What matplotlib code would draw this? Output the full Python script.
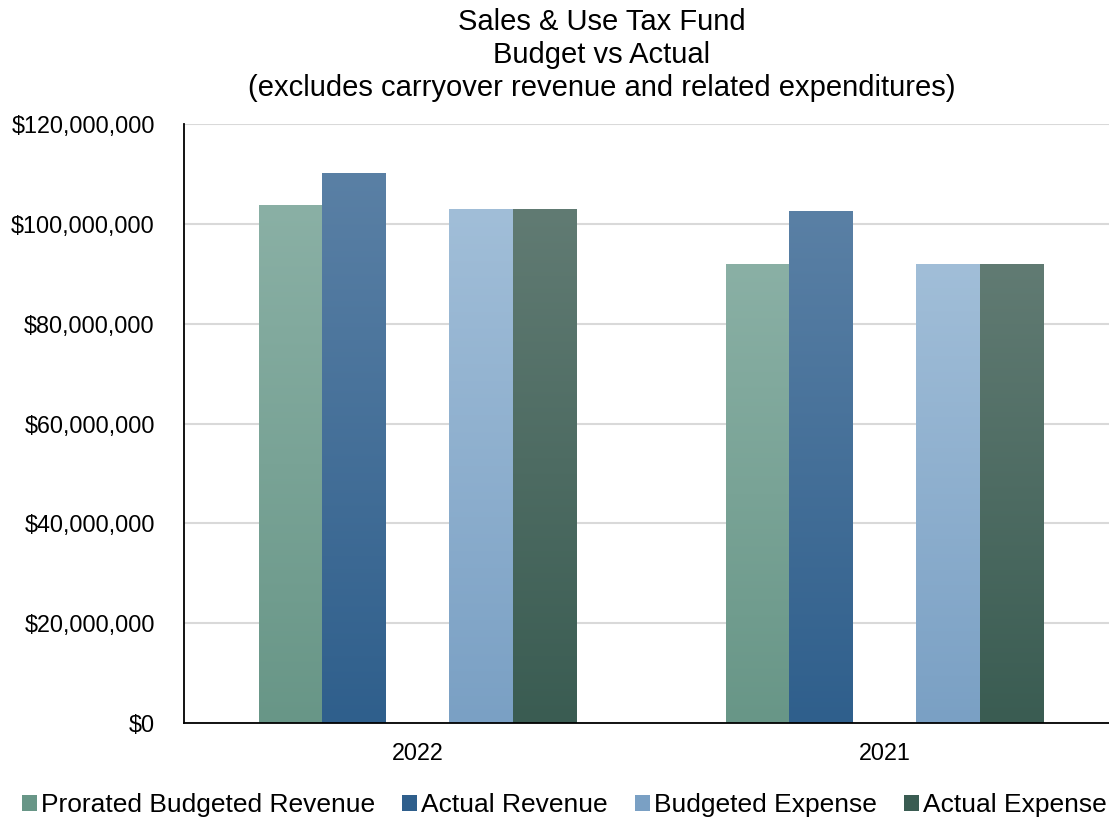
import numpy as np
import matplotlib
matplotlib.use("Agg")
import matplotlib.pyplot as plt
from matplotlib.colors import LinearSegmentedColormap
from matplotlib.patches import Patch
from matplotlib.ticker import FuncFormatter

plt.rcParams["font.family"] = ["Liberation Sans", "DejaVu Sans"]

categories = ["2022", "2021"]
series_names = ["Prorated Budgeted Revenue", "Actual Revenue",
                "Budgeted Expense", "Actual Expense"]
prorated_budgeted_revenue = [103.7e6, 91.9e6]
actual_revenue = [110.1e6, 102.5e6]
budgeted_expense = [102.9e6, 91.9e6]
actual_expense = [102.9e6, 91.9e6]
series_values = [prorated_budgeted_revenue, actual_revenue,
                 budgeted_expense, actual_expense]

# (top, bottom) colours of each series' vertical gradient
gradients = [("#8AB0A5", "#689687"),
             ("#5A80A5", "#2F5F8C"),
             ("#A1BED8", "#7AA0C4"),
             ("#617B73", "#3A5C52")]
# slot of each series within a group (the middle slot stays empty)
slots = [-2, -1, 1, 2]

W, H = 1109, 819
fig = plt.figure(figsize=(W / 100, H / 100), dpi=100)
ax = fig.add_axes([184 / W, 1 - 723 / H, (W - 184) / W, (723 - 124) / H])

x = np.arange(len(categories))
bar_w = 63.5 / 467

for vals, slot, (top, bot) in zip(series_values, slots, gradients):
    bars = ax.bar(x + slot * bar_w, vals, width=bar_w, zorder=2)
    cmap = LinearSegmentedColormap.from_list("g", [bot, top])
    for p in bars.patches:
        p.set_visible(False)
        x0, w, h = p.get_x(), p.get_width(), p.get_height()
        grad = np.linspace(0, 1, 256).reshape(-1, 1)
        ax.imshow(grad, cmap=cmap, origin="lower", aspect="auto",
                  extent=[x0, x0 + w, 0, h], zorder=2, interpolation="bicubic")

ax.set_xlim(-0.5, (W - 184) / 467 - 0.5)
ax.set_ylim(0, 120e6)
ax.set_yticks(np.arange(0, 120e6 + 1, 20e6))
ax.yaxis.set_major_formatter(FuncFormatter(lambda v, _: f"${v:,.0f}"))
ax.set_xticks(x)
ax.set_xticklabels(categories)

ax.grid(axis="y", color="#D9D9D9", linewidth=1.5, zorder=0)
ax.set_axisbelow(True)
for s in ["top", "right"]:
    ax.spines[s].set_visible(False)
for s in ["left", "bottom"]:
    ax.spines[s].set_color("black")
    ax.spines[s].set_linewidth(1.3)
    ax.spines[s].set_zorder(3)

ax.tick_params(axis="y", length=0, pad=21, labelsize=16.8)
ax.tick_params(axis="x", length=0, pad=14, labelsize=16.8)

fig.text(602 / W, 1 - 55 / H,
         "Sales & Use Tax Fund\nBudget vs Actual\n(excludes carryover revenue and related expenditures)",
         ha="center", va="center", fontsize=21, linespacing=1.22)

handles = [Patch(facecolor=b, edgecolor="none", label=n)
           for n, (t, b) in zip(series_names, gradients)]
fig.legend(handles=handles, loc="center", bbox_to_anchor=(564 / W, 1 - 805 / H),
           ncol=4, frameon=False, fontsize=19, handlelength=0.57,
           handleheight=0.57, handletextpad=0.15, columnspacing=1.03,
           borderaxespad=0, borderpad=0)

fig.savefig("out.png", dpi=100)
